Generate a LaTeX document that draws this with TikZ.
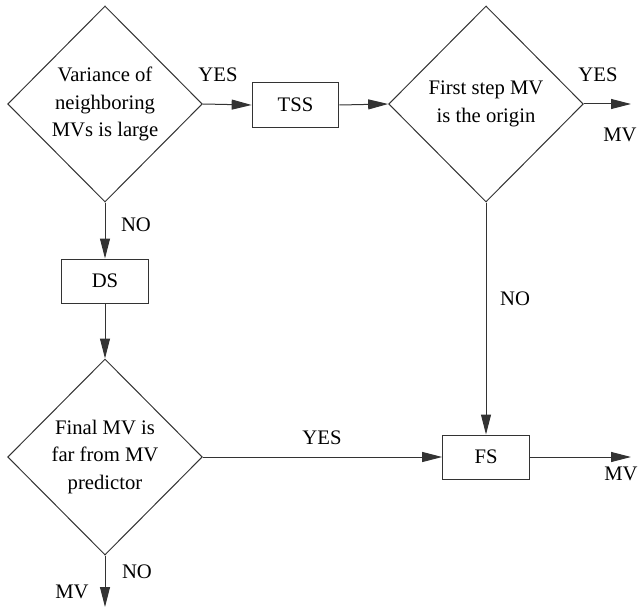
\documentclass[tikz,border=0pt]{standalone}
\usepackage{fontspec}
\setmainfont{Liberation Serif}
\usetikzlibrary{shapes.geometric,arrows.meta}

\tikzset{
	decision/.style={diamond, draw=black!80, line width=0.75pt, minimum width=146pt, minimum height=147pt, inner sep=0pt, align=center},
	stepbox/.style={rectangle, draw=black!80, line width=0.75pt, minimum width=65pt, minimum height=33pt},
	flow/.style={draw=black!80, line width=0.75pt, -{Triangle[length=15pt,width=7.5pt]}}
}

\begin{document}
\begin{tikzpicture}[x=0.75pt, y=-0.75pt, font=\fontsize{15.5}{20.5}\selectfont]
	\useasboundingbox (0,0) rectangle (639,610);

	\node[decision](varDec) at (105,104){Variance of\\neighboring\\MVs is large};
	\node[stepbox](tssBox) at (295.5,105){TSS};
	\node[decision](firstDec) at (486,104){First step MV\\is the origin};

	\node[stepbox](dsBox) at (105,281){DS};
	\node[decision](finalDec) at (105,457){Final MV is\\far from MV\\predictor};
	\node[stepbox](fsBox) at (486,457){FS};

	\coordinate(yesOut) at (631,104);
	\coordinate(mvOut) at (631,457);
	\coordinate(noOut) at (105,607);

	\draw[flow](varDec.east) -- (tssBox.west);
	\draw[flow](tssBox.east) -- (firstDec.west);
	\draw[flow](firstDec.east) -- (yesOut);
	\draw[flow](varDec.south) -- (dsBox.north);
	\draw[flow](dsBox.south) -- (finalDec.north);
	\draw[flow](firstDec.south) -- (fsBox.north);
	\draw[flow](finalDec.east) -- (fsBox.west);
	\draw[flow](fsBox.east) -- (mvOut);
	\draw[flow](finalDec.south) -- (noOut);

	% branch labels
	\node(yesA) at (218,75){YES};
	\node(yesB) at (598,75){YES};
	\node(mvB) at (620,135){MV};
	\node(noA) at (136,225){NO};
	\node(noB) at (515,299){NO};
	\node(yesC) at (322,438){YES};
	\node(mvC) at (621,474){MV};
	\node(noC) at (137,572){NO};
	\node(mvD) at (72,592){MV};
\end{tikzpicture}
\end{document}
